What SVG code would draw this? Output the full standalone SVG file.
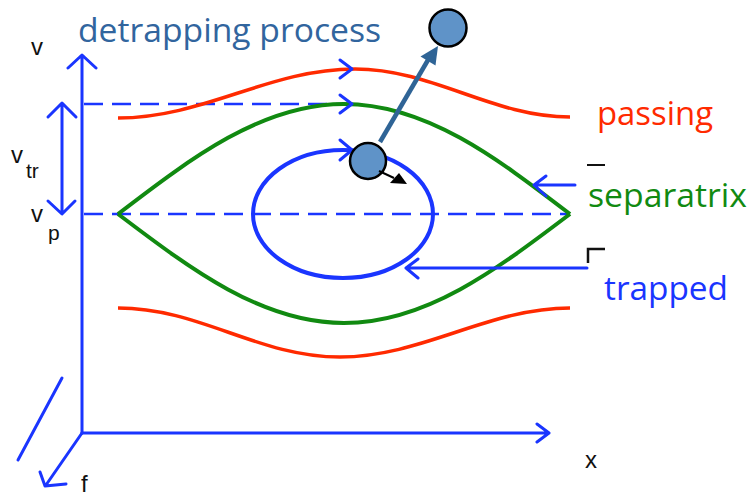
<svg xmlns="http://www.w3.org/2000/svg" width="752" height="496" viewBox="0 0 752 496">
<style>
.ax{stroke:#1A35FF;stroke-width:3;fill:none;stroke-linecap:round;stroke-linejoin:round}
.dash{stroke:#1A35FF;stroke-width:2.5;fill:none;stroke-dasharray:19 9}
.red{stroke:#FF2A00;stroke-width:3.5;fill:none}
.grn{stroke:#118A11;stroke-width:4;fill:none}
.blu{stroke:#1A35FF;stroke-width:4;fill:none}
.lab{font-family:"Liberation Sans",Arial,sans-serif;fill:#111}
.big{font-family:"Open Sans","Liberation Sans",sans-serif;font-size:33px}
.part{fill:#5F93C8;stroke:#000;stroke-width:2.5}
</style>
<rect width="752" height="496" fill="#fff"/>
<g id="axes">
<path class="ax" d="M82,433 V56 M68,68 L82,55 L96,68"/>
<path class="ax" d="M82,433 H548 M537,424 L549,433 L537,442"/>
<path class="ax" d="M82,433 L46,485 M40,472 L45,486 L66,484"/>
<path class="ax" d="M62,378 L18,460"/>
<path class="ax" d="M62,104 V213 M48,117 L62,103 L76,117 M48,201 L62,214 L75,201"/>
<text class="lab" x="31" y="55" font-size="24">v</text>
<text class="lab" x="11" y="163" font-size="24">v</text>
<text class="lab" x="26" y="178" font-size="21">tr</text>
<text class="lab" x="31" y="222" font-size="24">v</text>
<text class="lab" x="48" y="240" font-size="21">p</text>
<text class="lab" x="585" y="468" font-size="24">x</text>
<text class="lab" x="81" y="492" font-size="24">f</text>
</g>
<g id="dashes">
<path class="dash" d="M84,104 H350"/>
<path class="dash" d="M84,214 H570"/>
</g>
<g id="passing">
<path class="red" d="M118,118 C204,118 269,69 355,69 C433,69 492,117 570,117"/>
<path class="red" d="M118,308 C200,308 258,357 340,357 C422,357 488,308 570,308"/>
<text class="big" x="597" y="125" fill="#FF2A00" textLength="116" lengthAdjust="spacingAndGlyphs">passing</text>
</g>
<g id="separatrix">
<path class="grn" d="M118,214 C191.7,157.6 262.2,104 344,104 C425.8,104 496.3,157.6 570,214"/>
<path class="grn" d="M118,214 C191.7,269.8 262.2,323 344,323 C425.8,323 496.3,269.8 570,214"/>
<text class="big" x="588" y="207" fill="#118A11" textLength="159" lengthAdjust="spacingAndGlyphs">separatrix</text>
<path d="M587,165 H605" stroke="#111" stroke-width="2"/>
</g>
<g id="trapped">
<ellipse class="blu" cx="343" cy="214" rx="90" ry="64"/>
<text class="big" x="604" y="300" fill="#1A35FF" textLength="124" lengthAdjust="spacingAndGlyphs">trapped</text>
<path d="M588,263 V249 H605" stroke="#111" stroke-width="2.5" fill="none"/>
</g>
<g id="connectors">
<path class="ax" d="M340,60 L352,69 L340,78"/>
<path class="ax" d="M340,95 L352,104 L340,113"/>
<path class="ax" d="M340,140 L352,150 L340,160"/>
<path class="ax" stroke-width="2.5" d="M575,185 H534 M546,176 L534,185 L546,196"/>
<path class="ax" stroke-width="2.5" d="M587,268 H406 M418,259 L406,268 L418,278"/>
</g>
<g id="particles">
<path d="M380,142 L428,60" stroke="#2F6496" stroke-width="4.5" fill="none"/>
<path d="M438,46 L435.5,65.5 L420.5,56.5 z" fill="#2F6496"/>
<circle class="part" cx="368" cy="161" r="18"/>
<circle class="part" cx="448" cy="28" r="18.5"/>
<path d="M379,171 L394,178" stroke="#000" stroke-width="2"/>
<path d="M390,183 L407,184 L399,173 z" fill="#000"/>
</g>
<text class="big" x="78" y="42" fill="#31659E" font-size="35" textLength="303" lengthAdjust="spacingAndGlyphs">detrapping process</text>
</svg>
